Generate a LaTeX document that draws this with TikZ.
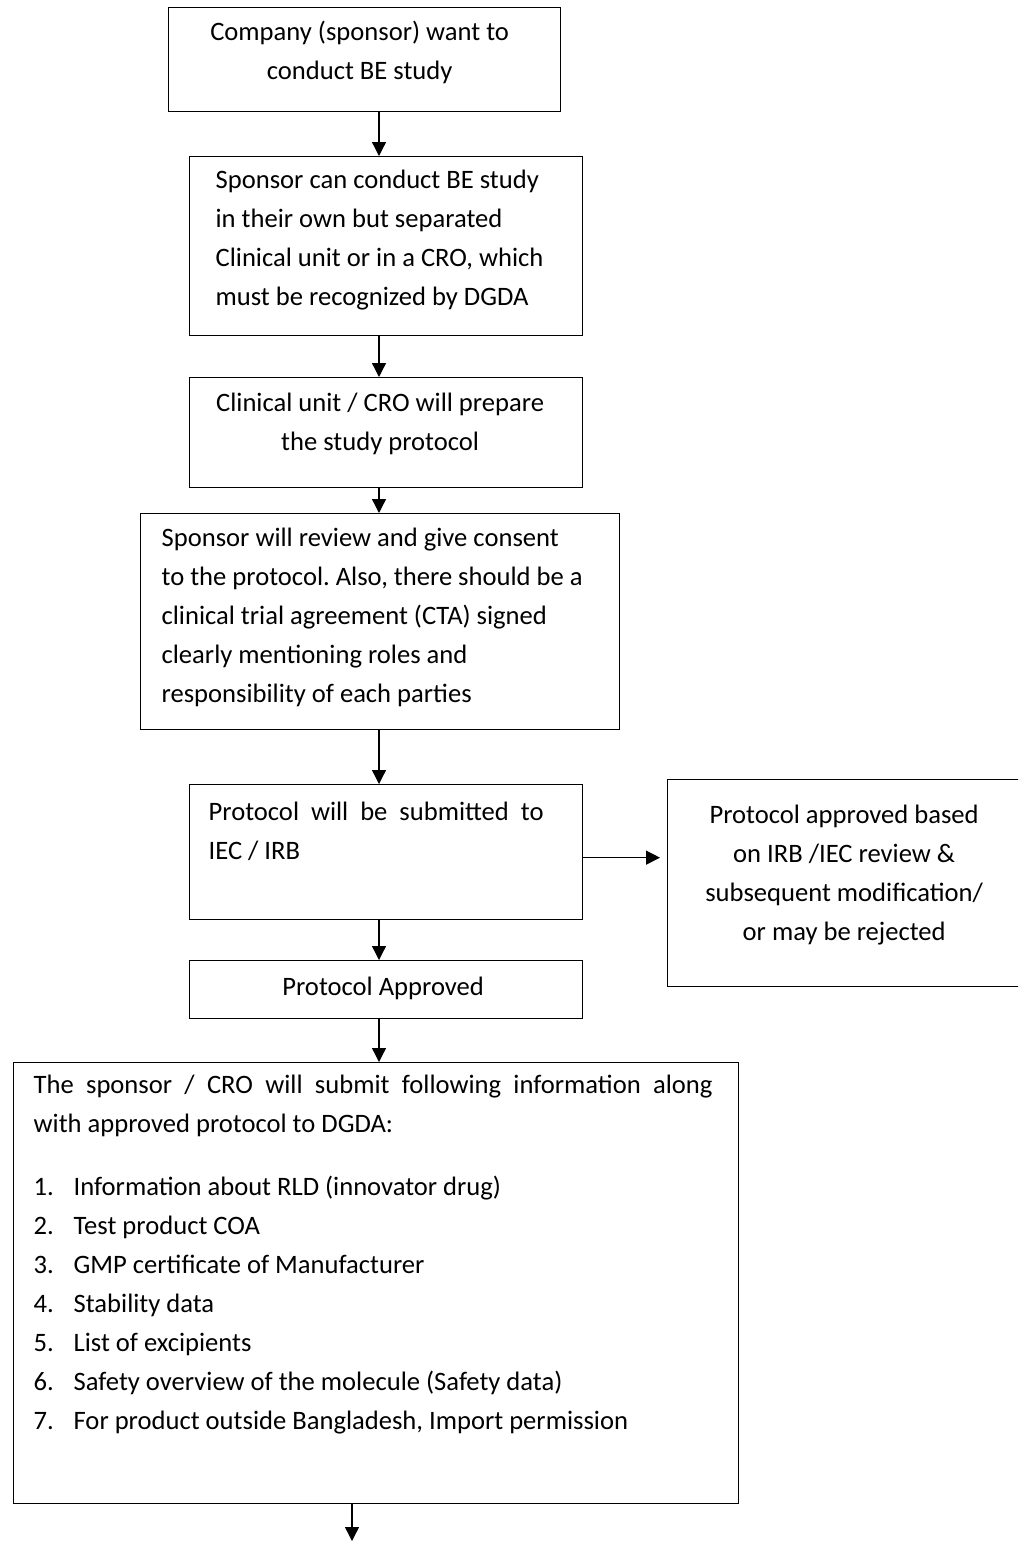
\documentclass[tikz,border=0pt]{standalone}
\usepackage{fontspec}
\setmainfont{Carlito}
\usetikzlibrary{arrows.meta}
\frenchspacing

\begin{document}
\begin{tikzpicture}[x=0.5pt,y=-0.5pt,
  stepbox/.style={draw=black, line width=0.65pt, rectangle, anchor=north west, inner ysep=0pt, font=\fontsize{13.3pt}{19.5pt}\selectfont},
  flow/.style={-{Triangle[length=7pt,width=7pt]}, line width=0.65pt}]
\useasboundingbox (0,0) rectangle (1018,1542);
\clip (0,0) rectangle (1018,1542);
\coordinate (spine) at (379,0);
\coordinate (tail) at (352,1541);
\node[stepbox, inner xsep=4pt, text width=188pt, text height=16.5pt, text depth=35.5pt] (company) at (168,7) {\centering\rightskip=5pt plus 1fil\spaceskip=0pt\xspaceskip=0pt Company (sponsor) want to\\conduct BE study\par};
\node[stepbox, inner xsep=13pt, text width=170.5pt, text height=16pt, text depth=73.5pt] (sponsor) at (189,156) {\raggedright\spaceskip=0pt\xspaceskip=0pt Sponsor can conduct BE study\\in their own but separated\\Clinical unit or in a CRO, which\\must be recognized by DGDA\par};
\node[stepbox, inner xsep=4pt, text width=188.5pt, text height=17pt, text depth=38pt] (prepare) at (189,377) {\centering\rightskip=6pt plus 1fil\spaceskip=0pt\xspaceskip=0pt Clinical unit / CRO will prepare\\the study protocol\par};
\node[stepbox, inner xsep=10.5pt, text width=218.5pt, text height=16.5pt, text depth=91.5pt] (review) at (140,513) {\raggedright\spaceskip=0pt\xspaceskip=0pt Sponsor will review and give consent\\to the protocol. Also, there should be a\\clinical trial agreement (CTA) signed\\clearly mentioning roles and\\responsibility of each parties\par};
\node[stepbox, inner xsep=9.5pt, text width=177.5pt, text height=18pt, text depth=49.5pt] (submit) at (189,784) {\spaceskip=0pt\xspaceskip=0pt\leftskip=0pt\rightskip=10pt\parfillskip=0pt plus 1fil Protocol will be submitted to\linebreak IEC / IRB\par};
\node[stepbox, inner xsep=4pt, text width=168.5pt, text height=22pt, text depth=81.5pt] (irb) at (667,779) {\centering\spaceskip=0pt\xspaceskip=0pt Protocol approved based\\on IRB /IEC review \&\\subsequent modification/\\or may be rejected\par};
\node[stepbox, inner xsep=4pt, text width=188.5pt, text height=17.5pt, text depth=11.5pt] (approved) at (189,960) {\centering\rightskip=3pt plus 1fil\spaceskip=0pt\xspaceskip=0pt Protocol Approved\par};
\node[stepbox, inner xsep=10pt, text width=342.5pt, text height=15.5pt, text depth=205pt] (dgda) at (13,1062) {\spaceskip=0pt\xspaceskip=0pt\leftskip=0pt\rightskip=3pt\parfillskip=0pt plus 1fil The sponsor / CRO will submit following information along\linebreak with approved protocol to DGDA:\\[12pt]
\makebox[20pt][l]{1.}Information about RLD (innovator drug)\\
\makebox[20pt][l]{2.}Test product COA\\
\makebox[20pt][l]{3.}GMP certificate of Manufacturer\\
\makebox[20pt][l]{4.}Stability data\\
\makebox[20pt][l]{5.}List of excipients\\
\makebox[20pt][l]{6.}Safety overview of the molecule (Safety data)\\
\makebox[20pt][l]{7.}For product outside Bangladesh, Import permission\par};
\coordinate (side) at ([yshift=-2.75pt]submit.east);
\draw[flow] (company.south -| spine) -- (sponsor.north -| spine);
\draw[flow] (sponsor.south -| spine) -- (prepare.north -| spine);
\draw[flow] (prepare.south -| spine) -- (review.north -| spine);
\draw[flow] (review.south -| spine) -- (submit.north -| spine);
\draw[flow, shorten >=3.5pt] (side) -- (side -| irb.west);
\draw[flow] (submit.south -| spine) -- (approved.north -| spine);
\draw[flow] (approved.south -| spine) -- (dgda.north -| spine);
\draw[flow] (dgda.south -| tail) -- (tail);
\end{tikzpicture}
\end{document}
